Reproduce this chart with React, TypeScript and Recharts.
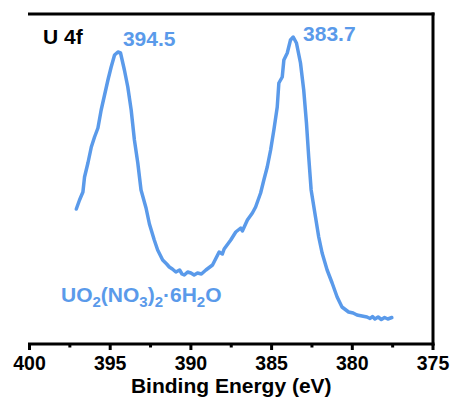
import React from 'react';
import { LineChart, Line, XAxis, YAxis, ReferenceLine, ReferenceDot } from 'recharts';

// Binding energy (eV)
const energy = [
  397.10, 396.90, 396.69, 396.59, 396.38, 396.17, 395.97, 395.76, 395.56, 395.35,
  395.14, 394.94, 394.73, 394.52, 394.36, 394.12, 393.91, 393.70, 393.50, 393.29,
  393.09, 392.78, 392.57, 392.27, 392.06, 391.75, 391.50, 391.34, 391.15, 390.93,
  390.70, 390.55, 390.41, 390.20, 390.00, 389.80, 389.59, 389.35, 389.07, 388.66,
  388.25, 388.05, 387.94, 387.53, 387.22, 386.91, 386.81, 386.50, 386.19, 385.99,
  385.68, 385.48, 385.27, 385.06, 384.86, 384.65, 384.55, 384.34, 384.24, 384.03,
  383.83, 383.66, 383.46, 383.21, 383.01, 382.84, 382.70, 382.55, 382.28, 382.08,
  381.87, 381.56, 381.25, 380.94, 380.64, 380.23, 379.95, 379.71, 379.40, 379.09,
  378.90, 378.75, 378.60, 378.40, 378.20, 378.00, 377.80, 377.55,
];
// Intensity (a.u.)
const intensity = [
  135, 144, 152, 167, 181, 197, 207, 216, 234, 249,
  264, 277, 289, 292, 291, 274, 257, 234, 204, 181,
  154, 136, 120, 104, 94, 84, 80, 77, 75, 72,
  74, 70, 69, 72, 71, 69, 71, 70, 74, 79,
  92, 90, 95, 104, 112, 116, 113, 124, 131, 137,
  151, 164, 177, 194, 214, 237, 261, 267, 284, 291,
  304, 307, 301, 281, 254, 221, 187, 154, 127, 107,
  91, 74, 61, 47, 37, 32, 31, 29, 28, 27,
  25.5, 27.5, 25, 27, 24.5, 26.5, 25, 26.5,
];
const majorTicks = [400, 395, 390, 385, 380, 375];
const minorTicks = [397.5, 392.5, 387.5, 382.5, 377.5];
const allTicks = [...majorTicks, ...minorTicks].sort((a, b) => a - b);

const peakLabels = ['394.5', '383.7'];
const panelLabel = 'U 4f';
const xTitle = 'Binding Energy (eV)';

const data = energy.map((e, i) => ({ e, v: intensity[i] }));

const BLUE = '#5A9AEA';
const FONT = '"Liberation Sans", Arial, Helvetica, sans-serif';

function XTick(props: any) {
  const { x, y, payload } = props;
  const major = majorTicks.includes(payload.value);
  return (
    <g>
      <line x1={x} x2={x} y1={y} y2={y + (major ? 6 : 3.5)} stroke="#000" strokeWidth={3} />
      {major && (
        <text x={x} y={y + 26} textAnchor="middle" fontSize={19.5} fontWeight="bold" fontFamily={FONT} fill="#000">
          {payload.value}
        </text>
      )}
    </g>
  );
}

function XTitle(props: any) {
  const vb = props.viewBox || { x: 0, y: 0, width: 0 };
  return (
    <text x={vb.x + vb.width / 2} y={vb.y + 49} textAnchor="middle" fontSize={21} fontWeight="bold" fontFamily={FONT} fill="#000">
      {xTitle}
    </text>
  );
}

const textShape = (content: React.ReactNode, fill: string) => (p: any) => (
  <text x={p.cx} y={p.cy} fontSize={21} fontWeight="bold" fontFamily={FONT} fill={fill}>
    {content}
  </text>
);

const formula = (
  <>
    <tspan>UO</tspan>
    <tspan fontSize={15} dy={5}>2</tspan>
    <tspan dy={-5}>(NO</tspan>
    <tspan fontSize={15} dy={5}>3</tspan>
    <tspan dy={-5}>)</tspan>
    <tspan fontSize={15} dy={5}>2</tspan>
    <tspan dy={-5}>·6H</tspan>
    <tspan fontSize={15} dy={5}>2</tspan>
    <tspan dy={-5}>O</tspan>
  </>
);

export default function App() {
  return (
    <div style={{ position: 'absolute', left: 0, top: 0 }}>
      <LineChart width={455} height={407} data={data} margin={{ top: 14, right: 22, left: 29.5, bottom: 8 }}>
        <XAxis
          dataKey="e"
          type="number"
          domain={[375, 400]}
          reversed
          ticks={allTicks}
          interval={0}
          tickSize={0}
          tickMargin={0}
          tickLine={false}
          tick={<XTick />}
          axisLine={{ stroke: '#000', strokeWidth: 3, strokeLinecap: 'square' }}
          height={55}
          allowDataOverflow
          label={<XTitle />}
        />
        <YAxis
          type="number"
          domain={[0, 330]}
          width={0}
          tick={false}
          tickLine={false}
          axisLine={{ stroke: '#000', strokeWidth: 3, strokeLinecap: 'square' }}
          allowDataOverflow
        />
        <ReferenceLine y={330} stroke="#000" strokeWidth={3} strokeLinecap="square" />
        <ReferenceLine x={375} stroke="#000" strokeWidth={3} strokeLinecap="square" />
        <Line
          dataKey="v"
          type="linear"
          stroke={BLUE}
          strokeWidth={3.5}
          dot={false}
          isAnimationActive={false}
          strokeLinejoin="round"
          strokeLinecap="round"
        />
        <ReferenceDot x={399.16} y={300} r={1} shape={textShape(panelLabel, '#000')} />
        <ReferenceDot x={394.21} y={298} r={1} shape={textShape(peakLabels[0], BLUE)} />
        <ReferenceDot x={383.05} y={303} r={1} shape={textShape(peakLabels[1], BLUE)} />
        <ReferenceDot x={398.05} y={42} r={1} shape={textShape(formula, BLUE)} />
      </LineChart>
    </div>
  );
}
